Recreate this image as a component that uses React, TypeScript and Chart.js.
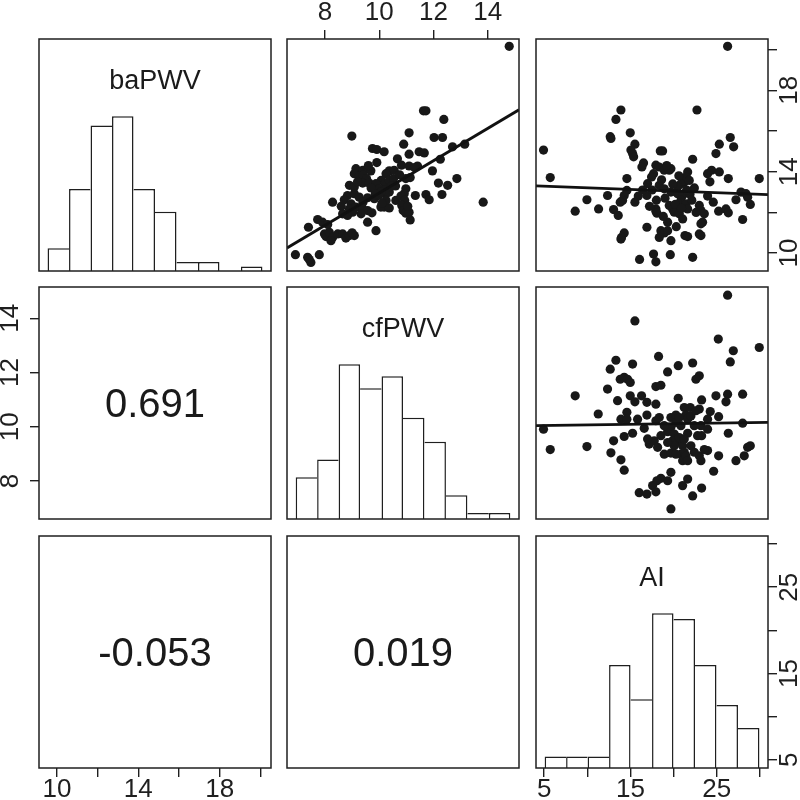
import React, { useEffect, useRef } from 'react';
import { Chart, registerables } from 'chart.js';
Chart.register(...registerables);

// ---------------- data ----------------
const VAR_NAMES = ['baPWV', 'cfPWV', 'AI'];
const CORRELATIONS = ['0.691', '-0.053', '0.019'];

// axis ranges (user coordinates of each panel)
const BA_AXIS = [9.12, 20.52];
const CF_AXIS = [6.6, 15.15];
const AI_AXIS = [4.05, 30.93];

const BA_TICKS = [10, 12, 14, 16, 18, 20];
const BA_TICK_LABELS = [10, 14, 18];
const CF_TICKS = [8, 10, 12, 14];
const CF_TICK_LABELS = [8, 10, 12, 14];
const AI_TICKS = [5, 10, 15, 20, 25, 30];
const AI_TICK_LABELS = [5, 15, 25];

// histograms: 10 equal bins between data min and max
const BA_HIST_RANGE = [9.54, 20.1];
const BA_HIST_COUNTS = [5, 18, 32, 34, 18, 13, 2, 2, 0, 1];
const CF_HIST_RANGE = [6.92, 14.83];
const CF_HIST_COUNTS = [7, 10, 26, 22, 24, 17, 13, 4, 1, 1];
const AI_HIST_RANGE = [5.05, 29.94];
const AI_HIST_COUNTS = [2, 2, 2, 18, 12, 27, 26, 18, 11, 7];

// regression lines (endpoints at panel edges)
const FIT_BA_CF = [[6.6, 10.25], [15.15, 17.04]];
const FIT_BA_AI = [[4.05, 13.3], [30.93, 12.87]];
const FIT_CF_AI = [[4.05, 10.04], [30.93, 10.16]];

// scatter: [cfPWV, baPWV]
const BA_CF_POINTS = [
  [14.79, 20.16], [11.63, 16.99], [11.72, 16.99], [12.38, 16.57], [8.99, 15.75], [12.02, 15.68],
  [12.33, 15.68], [11.1, 15.91], [12.7, 15.22], [13.15, 15.35], [10.9, 15.35], [9.75, 15.14],
  [9.91, 15.09], [10.18, 14.98], [11.47, 14.98], [11.66, 14.92], [11.1, 14.86], [12.25, 14.61],
  [10.67, 14.63], [9.91, 14.45], [11.41, 14.28], [10.82, 14.32], [11.1, 14.28], [11.96, 14.04],
  [9.14, 14.15], [9.39, 14.07], [9.57, 14.15], [9.69, 14.04], [10.37, 14.04], [10.55, 14.07],
  [10.25, 13.9], [9.08, 13.9], [9.26, 13.77], [9.41, 13.82], [9.53, 13.66], [10.98, 13.66],
  [11.14, 13.71], [10.07, 13.57], [10.22, 13.44], [10.37, 13.57], [10.53, 13.66], [8.9, 13.33],
  [9.08, 13.25], [12.18, 13.44], [12.52, 13.33], [12.86, 13.66], [9.39, 13.44], [9.63, 13.44],
  [9.88, 13.41], [10.0, 13.16], [10.18, 13.08], [10.37, 13.0], [10.25, 12.92], [10.06, 13.0],
  [10.98, 13.16], [10.92, 12.92], [8.83, 12.83], [9.08, 12.92], [9.26, 12.75], [9.57, 12.72],
  [9.82, 12.67], [9.98, 12.83], [8.28, 12.5], [8.71, 12.62], [8.96, 12.42], [8.9, 12.17],
  [9.14, 12.26], [9.39, 12.17], [9.57, 12.09], [9.73, 11.98], [9.33, 11.93], [10.61, 12.59],
  [10.8, 12.8], [10.94, 12.59], [11.33, 12.83], [11.72, 12.88], [11.84, 12.62], [12.31, 12.88],
  [10.06, 12.26], [10.18, 12.26], [10.37, 12.22], [10.25, 12.59], [8.65, 11.93], [8.83, 11.85],
  [9.02, 12.01], [10.83, 12.34], [10.88, 12.09], [10.98, 11.96], [11.1, 12.01], [11.14, 11.63],
  [13.83, 12.5], [7.73, 11.65], [7.91, 11.52], [7.39, 11.27], [9.57, 11.52], [9.88, 11.1],
  [7.98, 10.94], [8.04, 10.81], [8.16, 11.02], [8.28, 10.77], [8.47, 10.94], [8.65, 10.94],
  [8.77, 10.74], [8.9, 10.86], [9.08, 10.86], [8.22, 10.61], [6.91, 9.92], [7.36, 9.79],
  [7.48, 9.54], [7.79, 9.92], [9.2, 13.5], [9.7, 13.2], [10.6, 13.3], [9.4, 12.5],
  [8.6, 12.3], [10.1, 12.45], [9.85, 12.9], [11.3, 14.2], [10.75, 13.85], [9.6, 14.3],
  [8.1, 11.4], [7.42, 9.68], [11.05, 12.3], [9.0, 11.0], [10.45, 13.3],
];

// scatter: [AI, baPWV]
const BA_AI_POINTS = [
  [26.25, 20.16], [22.7, 17.03], [13.89, 17.03], [13.31, 16.57], [12.65, 15.72], [12.73, 15.63],
  [14.97, 15.91], [15.51, 15.35], [15.05, 15.06], [15.24, 14.89], [15.36, 14.73], [4.92, 15.06],
  [26.56, 15.68], [25.29, 15.35], [26.95, 15.22], [24.9, 14.89], [18.45, 15.02], [18.72, 15.02],
  [22.2, 14.61], [16.51, 14.43], [16.32, 14.23], [17.94, 14.32], [18.33, 14.23], [18.91, 14.07],
  [19.49, 14.07], [19.68, 14.15], [17.67, 13.9], [17.44, 13.74], [5.7, 13.71], [14.58, 13.66],
  [16.98, 13.41], [16.9, 12.83], [21.62, 13.99], [21.42, 13.74], [21.23, 13.49], [20.84, 13.41],
  [20.46, 13.25], [21.81, 13.57], [23.93, 13.9], [24.4, 14.07], [25.29, 13.99], [18.33, 13.33],
  [18.91, 13.16], [19.68, 13.0], [20.46, 12.92], [21.04, 12.83], [20.84, 12.59], [21.42, 12.42],
  [14.58, 13.08], [14.27, 12.83], [14.08, 12.59], [13.81, 12.5], [12.34, 12.83], [9.95, 12.62],
  [15.51, 12.5], [11.3, 12.17], [8.59, 12.06], [13.04, 12.14], [13.58, 11.85], [17.94, 12.17],
  [17.94, 12.05], [18.06, 11.96], [19.49, 12.34], [19.88, 12.17], [20.07, 12.01], [20.65, 11.93],
  [21.04, 11.68], [21.62, 12.17], [22.97, 12.34], [23.16, 12.09], [23.55, 11.93], [23.35, 11.52],
  [23.16, 11.44], [23.93, 12.8], [24.59, 12.5], [25.21, 12.06], [26.06, 12.17], [26.33, 11.98],
  [26.33, 13.66], [27.22, 12.62], [27.8, 13.0], [28.38, 12.92], [28.57, 12.75], [28.88, 12.39],
  [27.99, 11.65], [29.92, 13.66], [16.9, 11.27], [14.27, 10.99], [13.96, 10.77], [13.89, 10.69],
  [18.52, 11.1], [18.91, 10.99], [18.33, 10.77], [19.3, 11.1], [19.3, 11.52], [19.68, 10.61],
  [21.31, 10.86], [21.62, 10.81], [22.97, 10.94], [23.16, 10.86], [16.05, 9.69], [17.67, 9.95],
  [17.94, 9.57], [19.61, 9.92], [22.2, 9.79], [17.5, 13.1], [18.0, 12.6], [18.6, 13.6],
  [19.0, 12.7], [19.9, 13.4], [20.2, 12.4], [20.6, 13.8], [21.9, 12.9], [22.4, 13.2],
  [22.1, 12.6], [17.2, 12.3], [16.4, 13.1], [15.9, 12.8], [19.2, 14.3], [20.9, 12.2],
  [21.5, 13.1], [24.2, 13.5], [22.6, 12.0], [18.8, 11.8], [20.3, 11.3],
];

// scatter: [AI, cfPWV]
const CF_AI_POINTS = [
  [26.25, 14.85], [15.51, 13.9], [25.17, 13.23], [26.91, 12.8], [29.92, 12.92], [26.56, 12.39],
  [18.25, 12.59], [13.31, 12.45], [12.65, 12.12], [15.24, 12.31], [20.53, 12.25], [22.2, 12.35],
  [19.3, 12.02], [22.97, 11.88], [22.58, 11.75], [13.81, 11.75], [14.27, 11.82], [14.66, 11.75],
  [14.97, 11.63], [12.34, 11.39], [17.94, 11.48], [18.52, 11.53], [8.59, 11.14], [14.97, 11.14],
  [16.28, 11.14], [13.5, 10.96], [15.51, 10.92], [16.9, 10.9], [17.94, 10.83], [20.53, 11.05],
  [23.24, 10.99], [24.9, 11.14], [26.25, 11.2], [27.99, 11.2], [26.06, 10.92], [21.92, 10.71],
  [21.23, 10.71], [22.97, 10.65], [24.24, 10.56], [25.21, 10.37], [11.26, 10.47], [13.89, 10.28],
  [14.58, 10.53], [14.58, 10.28], [16.9, 10.43], [17.94, 10.22], [19.68, 10.34], [20.26, 10.43],
  [21.42, 10.43], [21.62, 10.28], [23.93, 10.28], [22.39, 10.04], [19.68, 9.98], [20.84, 10.04],
  [23.16, 10.04], [27.99, 10.13], [4.92, 9.91], [16.59, 9.94], [15.24, 9.76], [14.27, 9.64],
  [13.04, 9.48], [18.52, 9.67], [19.3, 9.82], [20.07, 9.73], [21.62, 9.76], [26.33, 9.76],
  [23.24, 9.67], [19.88, 9.48], [20.84, 9.42], [17.17, 9.36], [17.75, 9.48], [18.14, 9.24],
  [21.04, 9.3], [9.95, 9.27], [5.7, 9.16], [12.73, 9.04], [18.91, 8.99], [19.68, 9.03],
  [20.84, 8.99], [21.23, 9.06], [21.04, 8.75], [22.97, 8.93], [23.16, 8.75], [23.93, 9.12],
  [23.55, 9.16], [25.21, 8.93], [27.22, 8.75], [28.18, 8.93], [28.57, 9.24], [28.88, 9.3],
  [13.89, 8.78], [14.27, 8.4], [19.68, 8.32], [18.52, 8.1], [18.06, 8.01], [17.56, 7.83],
  [19.3, 8.01], [21.62, 8.07], [21.04, 7.83], [23.24, 7.74], [24.63, 8.36], [16.01, 7.57],
  [16.9, 7.52], [17.94, 7.6], [22.2, 7.45], [19.68, 6.97], [18.91, 10.04], [20.26, 10.16],
  [20.65, 9.6], [21.23, 9.55], [22.0, 10.4], [22.58, 10.59], [20.07, 9.3], [21.42, 8.93],
  [22.39, 9.06], [19.3, 9.42], [20.65, 10.34], [18.33, 10.34], [22.77, 9.67], [22.0, 9.3],
  [16.98, 9.55], [23.93, 9.91], [15.82, 10.28], [20.26, 8.99], [21.62, 8.75],
];

// ---------------- layout / style ----------------
const PANEL_X = [39, 287, 536];
const PANEL_Y = [39, 287, 536];
const SIZE = 232;
const M = 40;
const CANVAS = SIZE + 2 * M;
const FONT = "'Liberation Sans', Arial, Helvetica, sans-serif";
const INK = '#1f1f1f';
const DOT = '#181818';
const TICK_FONT = 26;

type AxisSpec = { range: number[]; ticks: number[]; labels: number[] };

function hiddenScale(range: number[], axis: string) {
  return {
    type: 'linear', axis, display: false, min: range[0], max: range[1], offset: false,
    grid: { offset: false },
    afterBuildTicks: (s: any) => { s.ticks = [{ value: s.min }]; },
  };
}

function shownScale(spec: AxisSpec, position: string, axis: string, drawLabels: boolean) {
  return {
    type: 'linear', axis, display: true, position, min: spec.range[0], max: spec.range[1], offset: false,
    afterBuildTicks: (s: any) => { s.ticks = spec.ticks.map((v) => ({ value: v })); },
    afterFit: (s: any) => { if (axis === 'x') s.height = M; else s.width = M; },
    grid: { display: true, drawOnChartArea: false, drawTicks: true, tickLength: 9, color: INK, lineWidth: 1.4, offset: false },
    border: { display: false },
    ticks: {
      autoSkip: false, minRotation: 0, maxRotation: 0,
      padding: position === 'top' ? 2 : -3,
      color: INK, font: { family: FONT, size: TICK_FONT },
      callback: (v: any) => (drawLabels && spec.labels.includes(Number(v)) ? String(v) : ''),
    },
  };
}

function decoPlugin(o: { title?: string; text?: string; yLabels?: { id: string; side: string; values: number[] } }) {
  return {
    id: 'panelDeco',
    afterDraw(chart: any) {
      const { ctx, chartArea: a } = chart;
      ctx.save();
      ctx.strokeStyle = INK;
      ctx.lineWidth = 1.5;
      ctx.strokeRect(a.left, a.top, a.right - a.left, a.bottom - a.top);
      ctx.fillStyle = '#1a1a1a';
      ctx.textAlign = 'center';
      ctx.textBaseline = 'middle';
      if (o.title) {
        ctx.font = `27px ${FONT}`;
        ctx.fillText(o.title, (a.left + a.right) / 2, a.top + 43);
      }
      if (o.text) {
        ctx.font = `40px ${FONT}`;
        ctx.fillText(o.text, (a.left + a.right) / 2, (a.top + a.bottom) / 2 + 3);
      }
      if (o.yLabels) {
        const s = chart.scales[o.yLabels.id];
        ctx.fillStyle = INK;
        ctx.font = `${TICK_FONT}px ${FONT}`;
        for (const v of o.yLabels.values) {
          const y = s.getPixelForValue(v);
          const x = o.yLabels.side === 'left' ? a.left - 28 : a.right + 22;
          ctx.save();
          ctx.translate(x, y);
          ctx.rotate(-Math.PI / 2);
          ctx.fillText(String(v), 0, 0);
          ctx.restore();
        }
      }
      ctx.restore();
    },
  };
}

type PanelSpec = {
  row: number; col: number;
  kind: 'hist' | 'scatter' | 'text';
  xRange: number[]; yRange?: number[];
  counts?: number[]; histRange?: number[];
  points?: number[][]; fit?: number[][];
  title?: string; text?: string;
  top?: AxisSpec; bottom?: AxisSpec; left?: AxisSpec; right?: AxisSpec;
};

const BA_SPEC: AxisSpec = { range: BA_AXIS, ticks: BA_TICKS, labels: BA_TICK_LABELS };
const CF_SPEC: AxisSpec = { range: CF_AXIS, ticks: CF_TICKS, labels: CF_TICK_LABELS };
const AI_SPEC: AxisSpec = { range: AI_AXIS, ticks: AI_TICKS, labels: AI_TICK_LABELS };

const PANELS: PanelSpec[] = [
  { row: 0, col: 0, kind: 'hist', xRange: BA_AXIS, counts: BA_HIST_COUNTS, histRange: BA_HIST_RANGE, title: VAR_NAMES[0] },
  { row: 0, col: 1, kind: 'scatter', xRange: CF_AXIS, yRange: BA_AXIS, points: BA_CF_POINTS, fit: FIT_BA_CF, top: CF_SPEC },
  { row: 0, col: 2, kind: 'scatter', xRange: AI_AXIS, yRange: BA_AXIS, points: BA_AI_POINTS, fit: FIT_BA_AI, right: BA_SPEC },
  { row: 1, col: 0, kind: 'text', xRange: BA_AXIS, yRange: CF_AXIS, text: CORRELATIONS[0], left: CF_SPEC },
  { row: 1, col: 1, kind: 'hist', xRange: CF_AXIS, counts: CF_HIST_COUNTS, histRange: CF_HIST_RANGE, title: VAR_NAMES[1] },
  { row: 1, col: 2, kind: 'scatter', xRange: AI_AXIS, yRange: CF_AXIS, points: CF_AI_POINTS, fit: FIT_CF_AI },
  { row: 2, col: 0, kind: 'text', xRange: BA_AXIS, yRange: AI_AXIS, text: CORRELATIONS[1], bottom: BA_SPEC },
  { row: 2, col: 1, kind: 'text', xRange: CF_AXIS, yRange: AI_AXIS, text: CORRELATIONS[2] },
  { row: 2, col: 2, kind: 'hist', xRange: AI_AXIS, counts: AI_HIST_COUNTS, histRange: AI_HIST_RANGE, title: VAR_NAMES[2], bottom: AI_SPEC, right: AI_SPEC },
];

function histDataset(counts: number[], range: number[]) {
  const n = counts.length;
  const w = (range[1] - range[0]) / n;
  const bw = 1.5;
  return {
    type: 'bar',
    data: counts.map((c, i) => ({ x: range[0] + w * (i + 0.5), y: c })),
    backgroundColor: '#ffffff',
    borderColor: INK,
    barPercentage: 1,
    categoryPercentage: 1,
    borderSkipped: 'start',
    inflateAmount: 0,
    borderWidth: (ctx: any) => {
      const i = ctx.dataIndex;
      const h = counts[i];
      const prev = i > 0 ? counts[i - 1] : 0;
      const next = i < n - 1 ? counts[i + 1] : 0;
      return { top: bw, bottom: 0, left: h >= prev ? bw : 0, right: h > next ? bw : 0 };
    },
  };
}

function makeConfig(p: PanelSpec): any {
  const xAxis = p.top || p.bottom;
  const yAxis = p.left || p.right;
  const yRange = p.kind === 'hist' ? [0, 1.5 * Math.max(...(p.counts as number[]))] : (p.yRange as number[]);
  const scales: any = {
    x: xAxis ? shownScale(xAxis, p.top ? 'top' : 'bottom', 'x', true) : hiddenScale(p.xRange, 'x'),
    y: hiddenScale(yRange, 'y'),
  };
  if (yAxis) scales.yAxis = shownScale(yAxis, p.left ? 'left' : 'right', 'y', false);

  const datasets: any[] = [];
  if (p.kind === 'hist') {
    datasets.push(histDataset(p.counts as number[], p.histRange as number[]));
  } else if (p.kind === 'scatter') {
    datasets.push({
      type: 'scatter',
      data: (p.fit as number[][]).map(([x, y]) => ({ x, y })),
      showLine: true, borderColor: '#111111', borderWidth: 2.8, pointRadius: 0, order: 0,
    });
    datasets.push({
      type: 'scatter',
      data: (p.points as number[][]).map(([x, y]) => ({ x, y })),
      pointRadius: 4.6, pointBackgroundColor: DOT, pointBorderWidth: 0, borderWidth: 0, order: 1,
    });
  }

  return {
    type: p.kind === 'hist' ? 'bar' : 'scatter',
    data: { datasets },
    options: {
      responsive: false,
      animation: false,
      devicePixelRatio: 1,
      events: [],
      layout: {
        autoPadding: false,
        padding: { left: p.left ? 0 : M, right: p.right ? 0 : M, top: p.top ? 0 : M, bottom: p.bottom ? 0 : M },
      },
      plugins: { legend: { display: false }, tooltip: { enabled: false } },
      scales,
    },
    plugins: [decoPlugin({
      title: p.title,
      text: p.text,
      yLabels: yAxis ? { id: 'yAxis', side: p.left ? 'left' : 'right', values: yAxis.labels } : undefined,
    })],
  };
}

export default function App() {
  const refs = useRef<(HTMLCanvasElement | null)[]>([]);
  useEffect(() => {
    const charts = PANELS.map((p, i) => new Chart(refs.current[i] as HTMLCanvasElement, makeConfig(p)));
    return () => charts.forEach((c) => c.destroy());
  }, []);
  return (
    <div style={{ position: 'fixed', left: 0, top: 0, width: 800, height: 800, overflow: 'hidden', background: '#fff' }}>
      {PANELS.map((p, i) => (
        <canvas
          key={i}
          ref={(el) => { refs.current[i] = el; }}
          width={CANVAS}
          height={CANVAS}
          style={{ position: 'absolute', left: PANEL_X[p.col] - M, top: PANEL_Y[p.row] - M, width: CANVAS, height: CANVAS }}
        />
      ))}
    </div>
  );
}
